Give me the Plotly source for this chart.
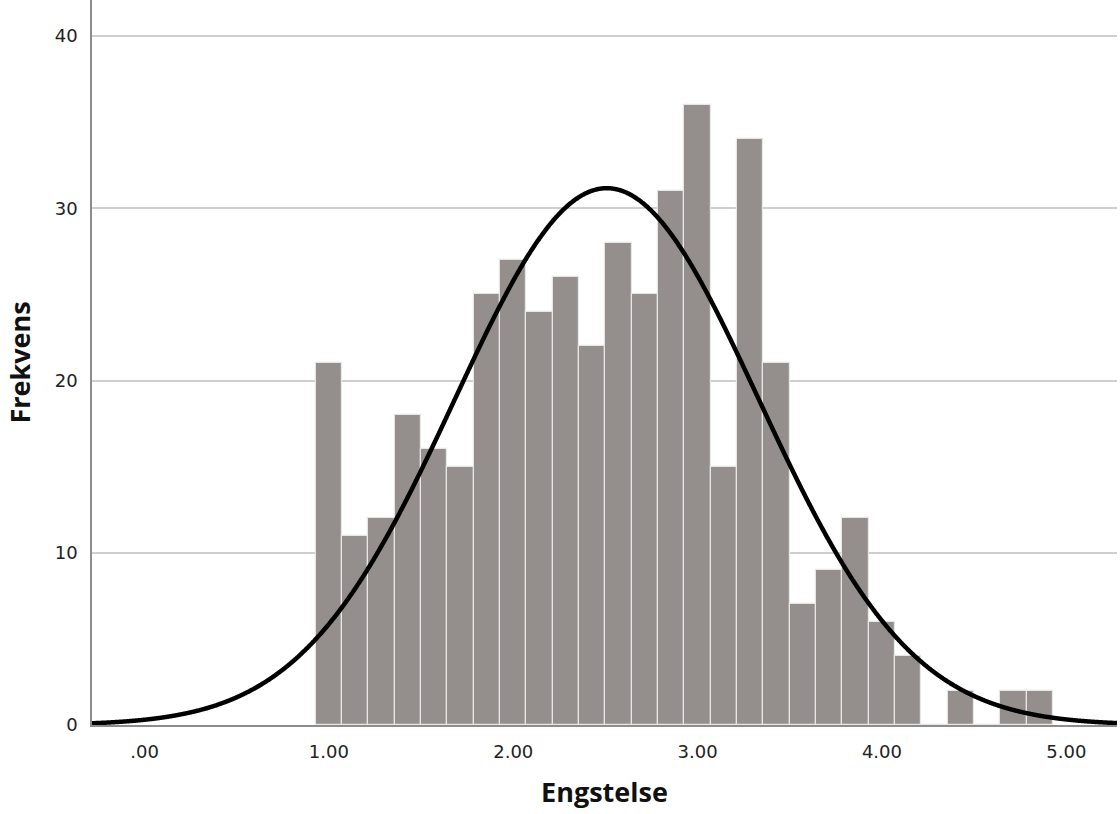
import numpy as np
import plotly.graph_objects as go

# Histogram of "Engstelse": bin width 1/7, first bin centred at 1.00
bin_width = 1 / 7
first_center = 1.0
counts = [21, 11, 12, 18, 16, 15, 25, 27, 24, 26, 22, 28, 25, 31, 36,
          15, 34, 21, 7, 9, 12, 6, 4, 0, 2, 0, 2, 2]
x_ticks = [0, 1, 2, 3, 4, 5]
x_tick_labels = [".00", "1.00", "2.00", "3.00", "4.00", "5.00"]
y_ticks = [0, 10, 20, 30, 40]

centers = np.array([first_center + i * bin_width for i in range(len(counts))])
cnt = np.array(counts, dtype=float)
n = cnt.sum()
mean = (cnt * centers).sum() / n
sd = np.sqrt((cnt * (centers - mean) ** 2).sum() / (n - 1))

x_range = [-0.285, 5.275]
xs = np.linspace(x_range[0], x_range[1], 1200)
ys = n * bin_width * np.exp(-0.5 * ((xs - mean) / sd) ** 2) / (sd * np.sqrt(2 * np.pi))

fig = go.Figure()
fig.add_trace(go.Bar(
    x=centers, y=counts, width=bin_width,
    marker=dict(color="#948f8d", line=dict(color="#e6e6e6", width=1.2)),
    hoverinfo="x+y", showlegend=False,
))
fig.add_trace(go.Scatter(
    x=xs, y=ys, mode="lines",
    line=dict(color="black", width=4.5, shape="spline"), showlegend=False, hoverinfo="skip",
))

fig.update_layout(
    width=1120, height=814,
    margin=dict(l=92, r=3, t=0, b=89),
    paper_bgcolor="white", plot_bgcolor="white",
    bargap=0,
    font=dict(family="DejaVu Sans", color="#222"),
)
fig.update_xaxes(
    range=x_range, tickvals=x_ticks, ticktext=x_tick_labels,
    showgrid=False, zeroline=False,
    showline=True, linecolor="#8c8c8c", linewidth=1.5,
    ticks="", tickfont=dict(size=18, family="DejaVu Sans", color="#222"),
    ticklabelstandoff=10,
    title=dict(text="<b>Engstelse</b>", font=dict(size=27, family="Open Sans", color="#111"), standoff=22),
)
fig.update_yaxes(
    range=[0, 42.1], tickvals=y_ticks,
    showgrid=True, gridcolor="#cfcfcf", gridwidth=1.5, zeroline=False,
    showline=True, linecolor="#8c8c8c", linewidth=1.5,
    ticks="", tickfont=dict(size=18, family="DejaVu Sans", color="#222"),
    ticklabelstandoff=9,
    title=dict(text="<b>Frekvens</b>", font=dict(size=27, family="Open Sans", color="#111"), standoff=16),
)

fig.write_html("out.html")
